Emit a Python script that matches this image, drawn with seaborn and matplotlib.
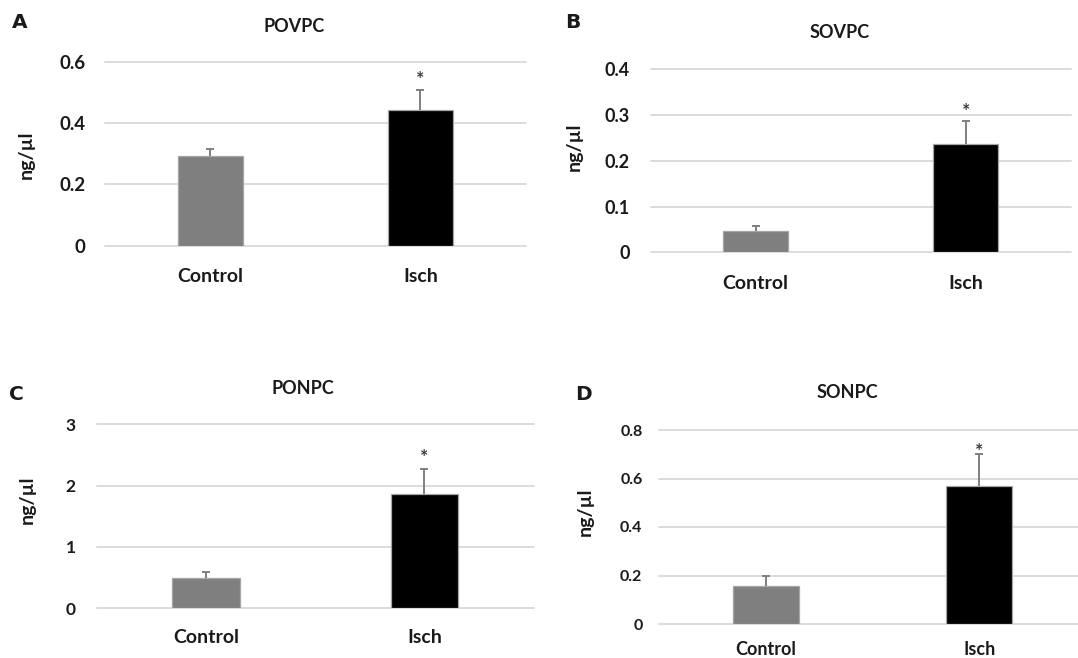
import pandas as pd
import matplotlib
matplotlib.use("Agg")
import matplotlib.pyplot as plt
import seaborn as sns

# values (mean and upper error bar)
groups = ["Control", "Isch"]
bar_colors = ["#7f7f7f", "#000000"]

povpc_mean = [0.294, 0.444]
povpc_err = [0.023, 0.066]
sovpc_mean = [0.047, 0.236]
sovpc_err = [0.010, 0.052]
ponpc_mean = [0.50, 1.87]
ponpc_err = [0.09, 0.40]
sonpc_mean = [0.155, 0.568]
sonpc_err = [0.043, 0.134]

povpc_ticks = [0, 0.2, 0.4, 0.6]
sovpc_ticks = [0, 0.1, 0.2, 0.3, 0.4]
ponpc_ticks = [0, 1, 2, 3]
sonpc_ticks = [0, 0.2, 0.4, 0.6, 0.8]

W, H = 1078, 658


def px_box(left, top, right, bottom):
    return [left / W, 1 - bottom / H, (right - left) / W, (bottom - top) / H]


def fig_text(fig, x, y, s, **kw):
    fig.text(x / W, 1 - y / H, s, ha="center", va="center", **kw)


def draw_panel(fig, p):
    ax = fig.add_axes(px_box(*p["box"]))
    df = pd.DataFrame({"group": groups, "value": p["mean"]})
    sns.barplot(data=df, x="group", y="value", hue="group", palette=bar_colors,
                width=0.31, errorbar=None, legend=False, ax=ax,
                edgecolor="#a6a6a6", linewidth=0.9, zorder=3)
    eb = ax.errorbar(range(len(groups)), p["mean"], yerr=[[0] * len(groups), p["err"]],
                     fmt="none", ecolor="#7f7f7f", elinewidth=1.4, capsize=3,
                     capthick=1.4, zorder=4)
    # only the upper half of the error bar is shown, drop the lower cap
    eb[1][0].set_visible(False)
    # significance star over the Isch bar
    ax.annotate("*", xy=(1, p["mean"][1] + p["err"][1]), xytext=(0, p["star"]),
                textcoords="offset points", ha="center", va="center",
                fontsize=14, color="#3a3a3a", fontweight="bold")

    ticks = p["ticks"]
    ax.set_ylim(ticks[0], ticks[-1])
    ax.set_xlim(-0.5, 1.5)
    ax.set_yticks(ticks)
    ax.set_yticklabels([f"{t:g}" for t in ticks], fontsize=p["tfs"], fontweight="bold")
    ax.set_xticks(range(len(groups)))
    ax.set_xticklabels(groups, fontsize=p["xfs"], fontweight="bold")
    ax.tick_params(axis="y", length=0, pad=p["ypad"])
    ax.tick_params(axis="x", length=0, pad=p["xpad"])
    ax.set_xlabel("")
    ax.set_ylabel("")
    ax.yaxis.grid(True, color="#d9d9d9", linewidth=1.3, zorder=0)
    ax.xaxis.grid(False)
    for g in ax.get_ygridlines():
        g.set_clip_on(False)
    sns.despine(ax=ax, left=True, bottom=True)

    fig_text(fig, *p["title_xy"], p["title"], fontsize=13, fontweight="bold")
    fig_text(fig, *p["letter_xy"], p["letter"], fontsize=14.5, fontweight="bold",
             family=["DejaVu Sans"])
    fig_text(fig, *p["ylab_xy"], "ng/µl", fontsize=p["yfs"], fontweight="bold", rotation=90)


def main():
    sns.set_theme(style="white")
    plt.rcParams["font.family"] = ["Lato", "DejaVu Sans"]
    plt.rcParams["text.color"] = "#1a1a1a"
    plt.rcParams["xtick.color"] = "#1a1a1a"
    plt.rcParams["ytick.color"] = "#1a1a1a"

    panels = [
        dict(box=(105, 62, 525.6, 245.7), mean=povpc_mean, err=povpc_err, ticks=povpc_ticks,
             title="POVPC", title_xy=(294, 26), letter="A", letter_xy=(20, 22),
             ylab_xy=(26, 155), tfs=13.5, xfs=14, yfs=14, ypad=14, xpad=16, star=7),
        dict(box=(650.5, 69.3, 1071, 252.3), mean=sovpc_mean, err=sovpc_err, ticks=sovpc_ticks,
             title="SOVPC", title_xy=(840, 33), letter="B", letter_xy=(573, 22),
             ylab_xy=(574, 147), tfs=13, xfs=14, yfs=14, ypad=15, xpad=16, star=6.5),
        dict(box=(96.5, 424.3, 533.7, 608.3), mean=ponpc_mean, err=ponpc_err, ticks=ponpc_ticks,
             title="PONPC", title_xy=(303, 388), letter="C", letter_xy=(16, 395),
             ylab_xy=(27, 500), tfs=12.5, xfs=14, yfs=14, ypad=15, xpad=15, star=8),
        dict(box=(659.1, 430, 1085.9, 624), mean=sonpc_mean, err=sonpc_err, ticks=sonpc_ticks,
             title="SONPC", title_xy=(847, 393), letter="D", letter_xy=(583, 395),
             ylab_xy=(585, 512), tfs=11.5, xfs=13, yfs=14, ypad=12, xpad=12, star=1.5),
    ]

    fig = plt.figure(figsize=(W / 100, H / 100), dpi=100)
    fig.patch.set_facecolor("white")
    for p in panels:
        draw_panel(fig, p)
    fig.savefig("out.png", dpi=100, facecolor="white")
    plt.close(fig)


if __name__ == "__main__":
    main()
